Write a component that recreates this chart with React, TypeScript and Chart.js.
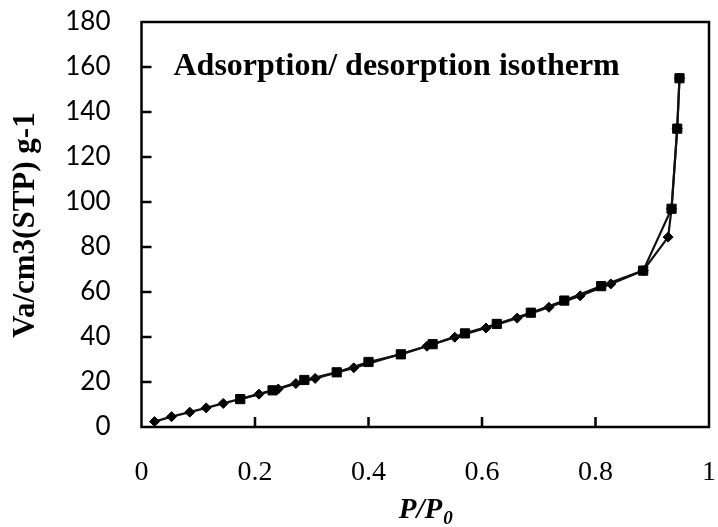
import { useEffect, useRef } from "react";
import { Chart, registerables } from "chart.js";

Chart.register(...registerables);

// Relative pressure (P/P0) and adsorbed volume for the two branches
const adsorptionP = [0.023, 0.053, 0.085, 0.114, 0.144, 0.207, 0.241, 0.272, 0.306, 0.374, 0.503, 0.552, 0.607, 0.662, 0.718, 0.773, 0.827, 0.884, 0.928, 0.934, 0.944, 0.948];
const adsorptionV = [2.4, 4.6, 6.6, 8.5, 10.5, 14.6, 16.9, 19.3, 21.6, 26.3, 35.9, 39.9, 44.0, 48.4, 53.2, 58.3, 63.6, 69.5, 84.4, 97.0, 132.6, 155.0];

const desorptionP = [0.948, 0.944, 0.934, 0.884, 0.810, 0.745, 0.686, 0.626, 0.570, 0.513, 0.457, 0.400, 0.344, 0.287, 0.231, 0.174];
const desorptionV = [155.0, 132.6, 97.0, 69.5, 62.6, 56.2, 50.8, 45.8, 41.6, 36.8, 32.3, 28.9, 24.3, 20.9, 16.3, 12.4];

const xTicks = [0, 0.2, 0.4, 0.6, 0.8, 1];
const yTicks = [0, 20, 40, 60, 80, 100, 120, 140, 160, 180];

const chartTitle = "Adsorption/ desorption isotherm";
const yTitle = "Va/cm3(STP) g-1";
const xTitleMain = "P/P";
const xTitleSub = "0";

const SERIF = '"Liberation Serif", "Times New Roman", serif';

const toPoints = (xs: number[], ys: number[]) => xs.map((x, i) => ({ x, y: ys[i] }));

// Frame, inward tick marks, in-plot title and axis titles
const decorations = {
  id: "decorations",
  afterDraw(chart: any) {
    const { ctx, chartArea, scales } = chart;
    const { left, right, top, bottom } = chartArea;
    ctx.save();
    ctx.strokeStyle = "#000";
    ctx.lineWidth = 2.5;
    ctx.lineCap = "butt";

    // inward ticks
    ctx.beginPath();
    xTicks.forEach((v) => {
      const px = scales.x.getPixelForValue(v);
      if (px <= left + 1 || px >= right - 1) return;
      ctx.moveTo(px, bottom);
      ctx.lineTo(px, bottom - 10);
    });
    yTicks.forEach((v) => {
      const py = scales.y.getPixelForValue(v);
      if (py >= bottom - 1 || py <= top + 1) return;
      ctx.moveTo(left, py);
      ctx.lineTo(left + 10, py);
    });
    ctx.stroke();

    // frame
    ctx.strokeRect(left, top, right - left, bottom - top);

    ctx.fillStyle = "#000";

    // title inside the plot
    ctx.font = `bold 32px ${SERIF}`;
    ctx.textAlign = "left";
    ctx.textBaseline = "alphabetic";
    ctx.fillText(chartTitle, left + 32, 75);

    // y-axis title
    ctx.save();
    ctx.translate(34, 225);
    ctx.rotate(-Math.PI / 2);
    ctx.textAlign = "center";
    ctx.font = `bold 31px ${SERIF}`;
    ctx.fillText(yTitle, 0, 0);
    ctx.restore();

    // x-axis title with subscript
    ctx.font = `bold italic 29px ${SERIF}`;
    const wMain = ctx.measureText(xTitleMain).width;
    ctx.font = `bold italic 19px ${SERIF}`;
    const wSub = ctx.measureText(xTitleSub).width;
    const cx = (left + right) / 2;
    const x0 = cx - (wMain + wSub) / 2;
    ctx.textAlign = "left";
    ctx.font = `bold italic 29px ${SERIF}`;
    ctx.fillText(xTitleMain, x0, 518);
    ctx.font = `bold italic 19px ${SERIF}`;
    ctx.fillText(xTitleSub, x0 + wMain + 1, 524);

    ctx.restore();
  },
};

// Scales keep a fixed box and add no overflow padding of their own
const fixBox = (size: { width?: number; height?: number }) => (s: any) => {
  if (size.width !== undefined) s.width = size.width;
  if (size.height !== undefined) s.height = size.height;
  s.paddingTop = 0;
  s.paddingBottom = 0;
  s.paddingLeft = 0;
  s.paddingRight = 0;
};

export default function App() {
  const canvasRef = useRef<HTMLCanvasElement | null>(null);

  useEffect(() => {
    const canvas = canvasRef.current;
    if (!canvas) return;
    const chart = new Chart(canvas, {
      type: "scatter",
      data: {
        datasets: [
          {
            label: "Desorption",
            data: toPoints(desorptionP, desorptionV),
            showLine: true,
            borderColor: "#111",
            borderWidth: 2.2,
            pointStyle: "rect",
            pointRadius: 6.5,
            pointBorderWidth: 1,
            pointBackgroundColor: "#000",
            pointBorderColor: "#000",
            tension: 0,
          },
          {
            label: "Adsorption",
            data: toPoints(adsorptionP, adsorptionV),
            showLine: true,
            borderColor: "#111",
            borderWidth: 2.2,
            pointStyle: "rectRot",
            pointRadius: 5,
            pointBorderWidth: 1,
            pointBackgroundColor: "#000",
            pointBorderColor: "#000",
            tension: 0,
          },
        ],
      },
      options: {
        animation: false,
        responsive: false,
        maintainAspectRatio: false,
        layout: { autoPadding: false, padding: { top: 22, right: 9, left: 0, bottom: 0 } },
        plugins: {
          legend: { display: false },
          tooltip: { enabled: false },
          title: { display: false },
        },
        scales: {
          x: {
            type: "linear",
            min: 0,
            max: 1,
            border: { display: false },
            grid: { display: false, drawTicks: false },
            afterBuildTicks: (s: any) => {
              s.ticks = xTicks.map((value) => ({ value }));
            },
            afterFit: fixBox({ height: 100 }),
            ticks: {
              padding: 29,
              color: "#000",
              maxRotation: 0,
              font: { family: SERIF, size: 28 },
              callback: (v: any) => String(v),
            },
          },
          y: {
            type: "linear",
            min: 0,
            max: 180,
            border: { display: false },
            grid: { display: false, drawTicks: false },
            afterBuildTicks: (s: any) => {
              s.ticks = yTicks.map((value) => ({ value }));
            },
            afterFit: fixBox({ width: 141.5 }),
            ticks: {
              padding: 31,
              color: "#000",
              font: { family: "Lato, 'Open Sans', sans-serif", size: 26 },
              callback: (v: any) => String(v),
            },
          },
        },
      },
      plugins: [decorations],
    });
    return () => chart.destroy();
  }, []);

  return (
    <div style={{ position: "fixed", left: 0, top: 0, width: 718, height: 527, background: "#fff" }}>
      <canvas ref={canvasRef} width={718} height={527} style={{ display: "block", width: 718, height: 527 }} />
    </div>
  );
}
